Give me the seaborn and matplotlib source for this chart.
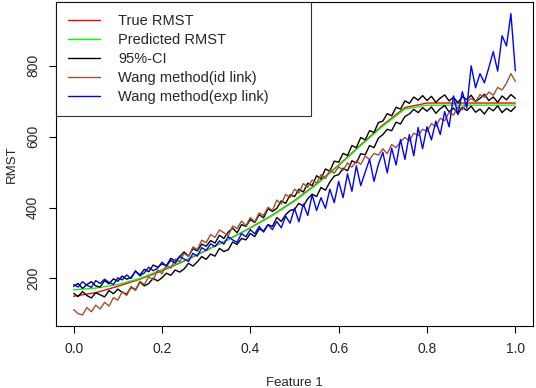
import numpy as np
import pandas as pd
import seaborn as sns
import matplotlib
matplotlib.use("Agg")
import matplotlib.pyplot as plt

# ------------------------------------------------------------------
# values
# ------------------------------------------------------------------
x_smooth = np.linspace(0, 1, 21)
x_noisy = np.linspace(0, 1, 101)

true_rmst = [150, 160, 178, 198, 222, 249, 279, 310, 343, 379, 420,
             467, 520, 577, 633, 682, 695, 695, 695, 695, 695]
pred_rmst = [168, 173, 183, 200, 225, 250, 280, 310, 342, 378, 418,
             465, 518, 575, 630, 678, 689, 689, 689, 689, 689]

ci_upper = [178, 186, 172, 183, 191, 179, 176, 194, 185, 199,
            192, 207, 198, 203, 221, 210, 226, 219, 238, 232,
            241, 236, 257, 249, 262, 275, 263, 284, 278, 297,
            291, 307, 300, 322, 313, 331, 342, 329, 352, 347,
            366, 358, 380, 371, 397, 389, 398, 419, 412, 436,
            431, 452, 444, 469, 462, 490, 481, 509, 503, 531,
            528, 553, 547, 575, 569, 598, 591, 617, 612, 640,
            644, 665, 659, 683, 678, 701, 694, 712, 703, 716,
            702, 714, 697, 709, 718, 701, 711, 696, 713, 705,
            717, 699, 708, 720, 702, 712, 697, 715, 704, 719, 708]
ci_lower = [158, 149, 163, 152, 145, 160, 154, 148, 166, 157,
            170, 161, 156, 175, 168, 190, 179, 186, 201, 193,
            202, 215, 209, 224, 218, 227, 243, 235, 247, 262,
            254, 269, 263, 285, 276, 281, 303, 296, 313, 309,
            327, 318, 340, 334, 352, 347, 372, 361, 380, 392,
            395, 412, 404, 425, 438, 431, 457, 449, 472, 489,
            493, 511, 504, 532, 526, 552, 549, 575, 569, 596,
            606, 621, 617, 641, 636, 657, 664, 677, 668, 682,
            672, 684, 666, 679, 688, 670, 681, 665, 683, 674,
            686, 669, 678, 664, 682, 673, 687, 668, 680, 671, 684]
wang_id = [112, 101, 97, 118, 106, 125, 114, 133, 122, 146,
           139, 163, 152, 178, 166, 192, 183, 205, 196, 224,
           213, 238, 229, 255, 247, 271, 262, 289, 282, 308,
           301, 324, 316, 337, 329, 320, 348, 341, 362, 349,
           372, 360, 385, 378, 401, 392, 421, 410, 437, 428,
           452, 441, 468, 457, 478, 469, 493, 482, 505, 497,
           515, 505, 526, 514, 531, 522, 545, 536, 553, 548,
           566, 552, 578, 569, 586, 598, 588, 610, 603, 621,
           615, 637, 629, 652, 645, 669, 661, 684, 676, 697,
           708, 699, 719, 711, 726, 717, 739, 732, 751, 778, 756]
wang_exp = [183, 176, 191, 181, 175, 194, 186, 198, 189, 183,
            202, 196, 210, 200, 221, 207, 216, 232, 222, 229,
            246, 235, 251, 243, 262, 255, 248, 271, 263, 287,
            279, 298, 290, 306, 297, 318, 309, 302, 327, 318,
            338, 326, 347, 331, 352, 338, 361, 343, 376, 356,
            398, 360, 410, 378, 436, 392, 428, 398, 452, 414,
            474, 428, 495, 446, 518, 462, 500, 536, 474, 522,
            556, 498, 568, 520, 592, 536, 606, 546, 626, 566,
            628, 591, 644, 606, 671, 628, 715, 662, 727, 681,
            800, 738, 778, 752, 795, 840, 785, 885, 856, 947, 786]

x_ticks = [0.0, 0.2, 0.4, 0.6, 0.8, 1.0]
y_ticks = [200, 400, 600, 800]

sns.set_style("white")
plt.rcParams['font.family'] = ['Liberation Sans', 'DejaVu Sans']

fig = plt.figure(figsize=(5.36, 3.88), dpi=100)
ax = fig.add_axes([56 / 536, 1 - 326 / 388, 477 / 536, 324 / 388])

lw = 1.0
sns.lineplot(x=x_smooth, y=true_rmst, color="#FF0000", lw=lw, label="True RMST", ax=ax)
sns.lineplot(x=x_smooth, y=pred_rmst, color="#00FF00", lw=lw, label="Predicted RMST", ax=ax)
sns.lineplot(x=x_noisy, y=ci_upper, color="black", lw=lw, label="95%-CI", ax=ax)
sns.lineplot(x=x_noisy, y=ci_lower, color="black", lw=lw, label="_nolegend_", ax=ax)
sns.lineplot(x=x_noisy, y=wang_id, color="#A0522D", lw=lw, label="Wang method(id link)", ax=ax)
sns.lineplot(x=x_noisy, y=wang_exp, color="#0000FF", lw=lw, label="Wang method(exp link)", ax=ax)

ax.set_xlim(-0.04, 1.04)
ax.set_ylim(66, 980)
ax.set_xticks(x_ticks)
ax.set_xticklabels([f"{t:.1f}" for t in x_ticks])
ax.set_yticks(y_ticks)
ax.tick_params(axis="both", direction="out", length=5, width=0.8, color="black",
               labelsize=10, pad=6.5, bottom=True, left=True)
ax.tick_params(axis="y", labelrotation=90)
for lab in ax.get_yticklabels():
    lab.set_va("center")
ax.set_xlabel("Feature 1", fontsize=9.5, labelpad=15)
ax.set_ylabel("RMST", fontsize=9.5, labelpad=6)
for s in ax.spines.values():
    s.set_color("black")
    s.set_linewidth(0.8)

leg = ax.legend(loc="upper left", bbox_to_anchor=(0, 1, 0.535, 0), mode="expand",
                borderaxespad=0, frameon=True, fancybox=False, fontsize=10.5,
                handlelength=2.2, handletextpad=1.2, labelspacing=0.33, borderpad=0.85)
leg.get_frame().set_edgecolor("black")
leg.get_frame().set_linewidth(0.8)

fig.savefig("out.png", dpi=100)
